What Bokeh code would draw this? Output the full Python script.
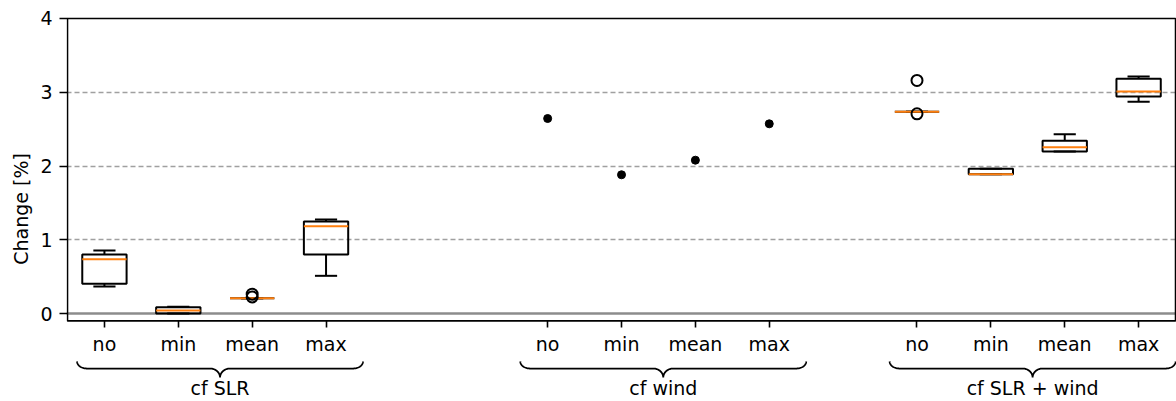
import numpy as np
from bokeh.plotting import figure
from bokeh.models import FixedTicker, Range1d, Span
from bokeh.embed import file_html
from bokeh.resources import INLINE
from bokeh.core.properties import value

# ---------------- data ----------------
categories = ["no", "min", "mean", "max"]
groups = ["cf SLR", "cf wind", "cf SLR + wind"]
slr_pos = [1, 2, 3, 4]
wind_pos = [7, 8, 9, 10]
both_pos = [12, 13, 14, 15]

# cf SLR box statistics
slr_whislo = [0.366, 0.0, 0.207, 0.511]
slr_q1 = [0.403, 0.0, 0.207, 0.800]
slr_med = [0.736, 0.040, 0.207, 1.184]
slr_q3 = [0.800, 0.085, 0.207, 1.247]
slr_whishi = [0.854, 0.090, 0.207, 1.275]
slr_flier_pos = [3, 3]
slr_flier_val = [0.262, 0.225]

# cf wind single values
wind_vals = [2.644, 1.881, 2.079, 2.572]

# cf SLR + wind box statistics
both_whislo = [2.735, 1.889, 2.197, 2.870]
both_q1 = [2.735, 1.889, 2.197, 2.942]
both_med = [2.735, 1.889, 2.255, 3.010]
both_q3 = [2.735, 1.962, 2.341, 3.182]
both_whishi = [2.735, 1.962, 2.431, 3.214]
both_flier_pos = [12, 12]
both_flier_val = [3.160, 2.708]

# ---------------- style / layout ----------------
FONT = "DejaVu Sans"
FS = "19px"
BOX_W = 0.6
CAP_W = 0.3
ORANGE = "#ff7f0e"
LW = 2.0

p = figure(width=1176, height=401, output_backend="svg", toolbar_location=None,
           title=None,
           x_range=Range1d(0.4865, 15.513), y_range=Range1d(-1.193, 4.027),
           min_border_left=66, min_border_right=0, min_border_top=16,
           min_border_bottom=0)
p.outline_line_color = None
p.background_fill_color = "white"
p.border_fill_color = "white"
p.xgrid.visible = False
p.ygrid.ticker = FixedTicker(ticks=[1, 2, 3])
p.ygrid.grid_line_color = "#a0a0a0"
p.ygrid.grid_line_width = 1.5
p.ygrid.grid_line_dash = "5 3"

# y axis
yax = p.yaxis[0]
yax.ticker = FixedTicker(ticks=[0, 1, 2, 3, 4])
yax.axis_line_color = None
yax.major_tick_out = 7
yax.major_tick_in = 1
yax.major_tick_line_width = 1.6
yax.major_tick_line_color = "black"
yax.minor_tick_line_color = None
yax.major_label_text_font = FONT
yax.major_label_text_font_size = FS
yax.major_label_text_color = "black"
yax.major_label_standoff = 7
yax.axis_label = "Change [%]"
yax.axis_label_text_font = FONT
yax.axis_label_text_font_size = FS
yax.axis_label_text_font_style = "normal"
yax.axis_label_text_color = "black"
yax.axis_label_standoff = 5

# x axis drawn at the bottom spine of the box
all_pos = slr_pos + wind_pos + both_pos
xax = p.xaxis[0]
xax.fixed_location = -0.1
xax.ticker = FixedTicker(ticks=all_pos)
xax.major_label_overrides = {pos: categories[i % 4] for i, pos in enumerate(all_pos)}
xax.axis_line_color = None
xax.major_tick_out = 7
xax.major_tick_in = 0
xax.major_tick_line_width = 1.6
xax.major_tick_line_color = "black"
xax.minor_tick_line_color = None
xax.major_label_text_font = FONT
xax.major_label_text_font_size = FS
xax.major_label_text_color = "black"
xax.major_label_standoff = 5

# zero line
p.add_layout(Span(location=0, dimension="width", line_color="#8c8c8c",
                  line_width=2.5, level="underlay"))

# plot box (spines)
p.quad(left=0.5, right=15.5, bottom=-0.1, top=4, fill_color=None,
       line_color="black", line_width=1.6)


def add_boxes(pos, lo, q1, med, q3, hi):
    pos = np.array(pos, dtype=float)
    p.segment(x0=pos, y0=q3, x1=pos, y1=hi, line_color="black", line_width=LW)
    p.segment(x0=pos, y0=lo, x1=pos, y1=q1, line_color="black", line_width=LW)
    p.segment(x0=pos - CAP_W / 2, y0=hi, x1=pos + CAP_W / 2, y1=hi,
              line_color="black", line_width=LW)
    p.segment(x0=pos - CAP_W / 2, y0=lo, x1=pos + CAP_W / 2, y1=lo,
              line_color="black", line_width=LW)
    p.quad(left=pos - BOX_W / 2, right=pos + BOX_W / 2, bottom=q1, top=q3,
           fill_color=None, line_color="black", line_width=LW)
    p.segment(x0=pos - BOX_W / 2, y0=med, x1=pos + BOX_W / 2, y1=med,
              line_color=ORANGE, line_width=2.0)


add_boxes(slr_pos, slr_whislo, slr_q1, slr_med, slr_q3, slr_whishi)
add_boxes(both_pos, both_whislo, both_q1, both_med, both_q3, both_whishi)

p.scatter(x=slr_flier_pos + both_flier_pos, y=slr_flier_val + both_flier_val,
          marker="circle", size=11, fill_color=None, line_color="black",
          line_width=2.0)

p.scatter(x=wind_pos, y=wind_vals, marker="circle", size=8,
          fill_color="black", line_color="black")

# curly braces under each group
BR_TOP = -0.651
BR_H1 = 0.095
BR_H2 = 0.122
BR_R1 = 0.135
BR_R2 = 0.135
BR_LEFT_PAD = 0.37
BR_RIGHT_PAD = 0.5
LABEL_Y = -1.015


def brace(x0, x1, n=24):
    xm = (x0 + x1) / 2
    t = np.linspace(0, np.pi / 2, n)
    xa = x0 + BR_R1 * (1 - np.cos(t))
    ya = BR_TOP - BR_H1 * np.sin(t)
    xb = xm - BR_R2 + BR_R2 * np.sin(t)
    yb = BR_TOP - BR_H1 - BR_H2 * (1 - np.cos(t))
    xl = np.concatenate([xa, xb])
    yl = np.concatenate([ya, yb])
    xr = 2 * xm - xl[::-1]
    yr = yl[::-1]
    return list(np.concatenate([xl, xr])), list(np.concatenate([yl, yr])), xm


bxs, bys, centers = [], [], []
for g in (slr_pos, wind_pos, both_pos):
    xs, ys, xm = brace(g[0] - BR_LEFT_PAD, g[-1] + BR_RIGHT_PAD)
    bxs.append(xs)
    bys.append(ys)
    centers.append(xm)

p.multi_line(xs=bxs, ys=bys, line_color="black", line_width=1.8)
p.text(x=centers, y=[LABEL_Y] * 3, text=groups, text_align="center",
       text_baseline="alphabetic", text_font=value(FONT), text_font_size=FS,
       text_color="black")

open("out.html", "w").write(file_html(p, INLINE))
